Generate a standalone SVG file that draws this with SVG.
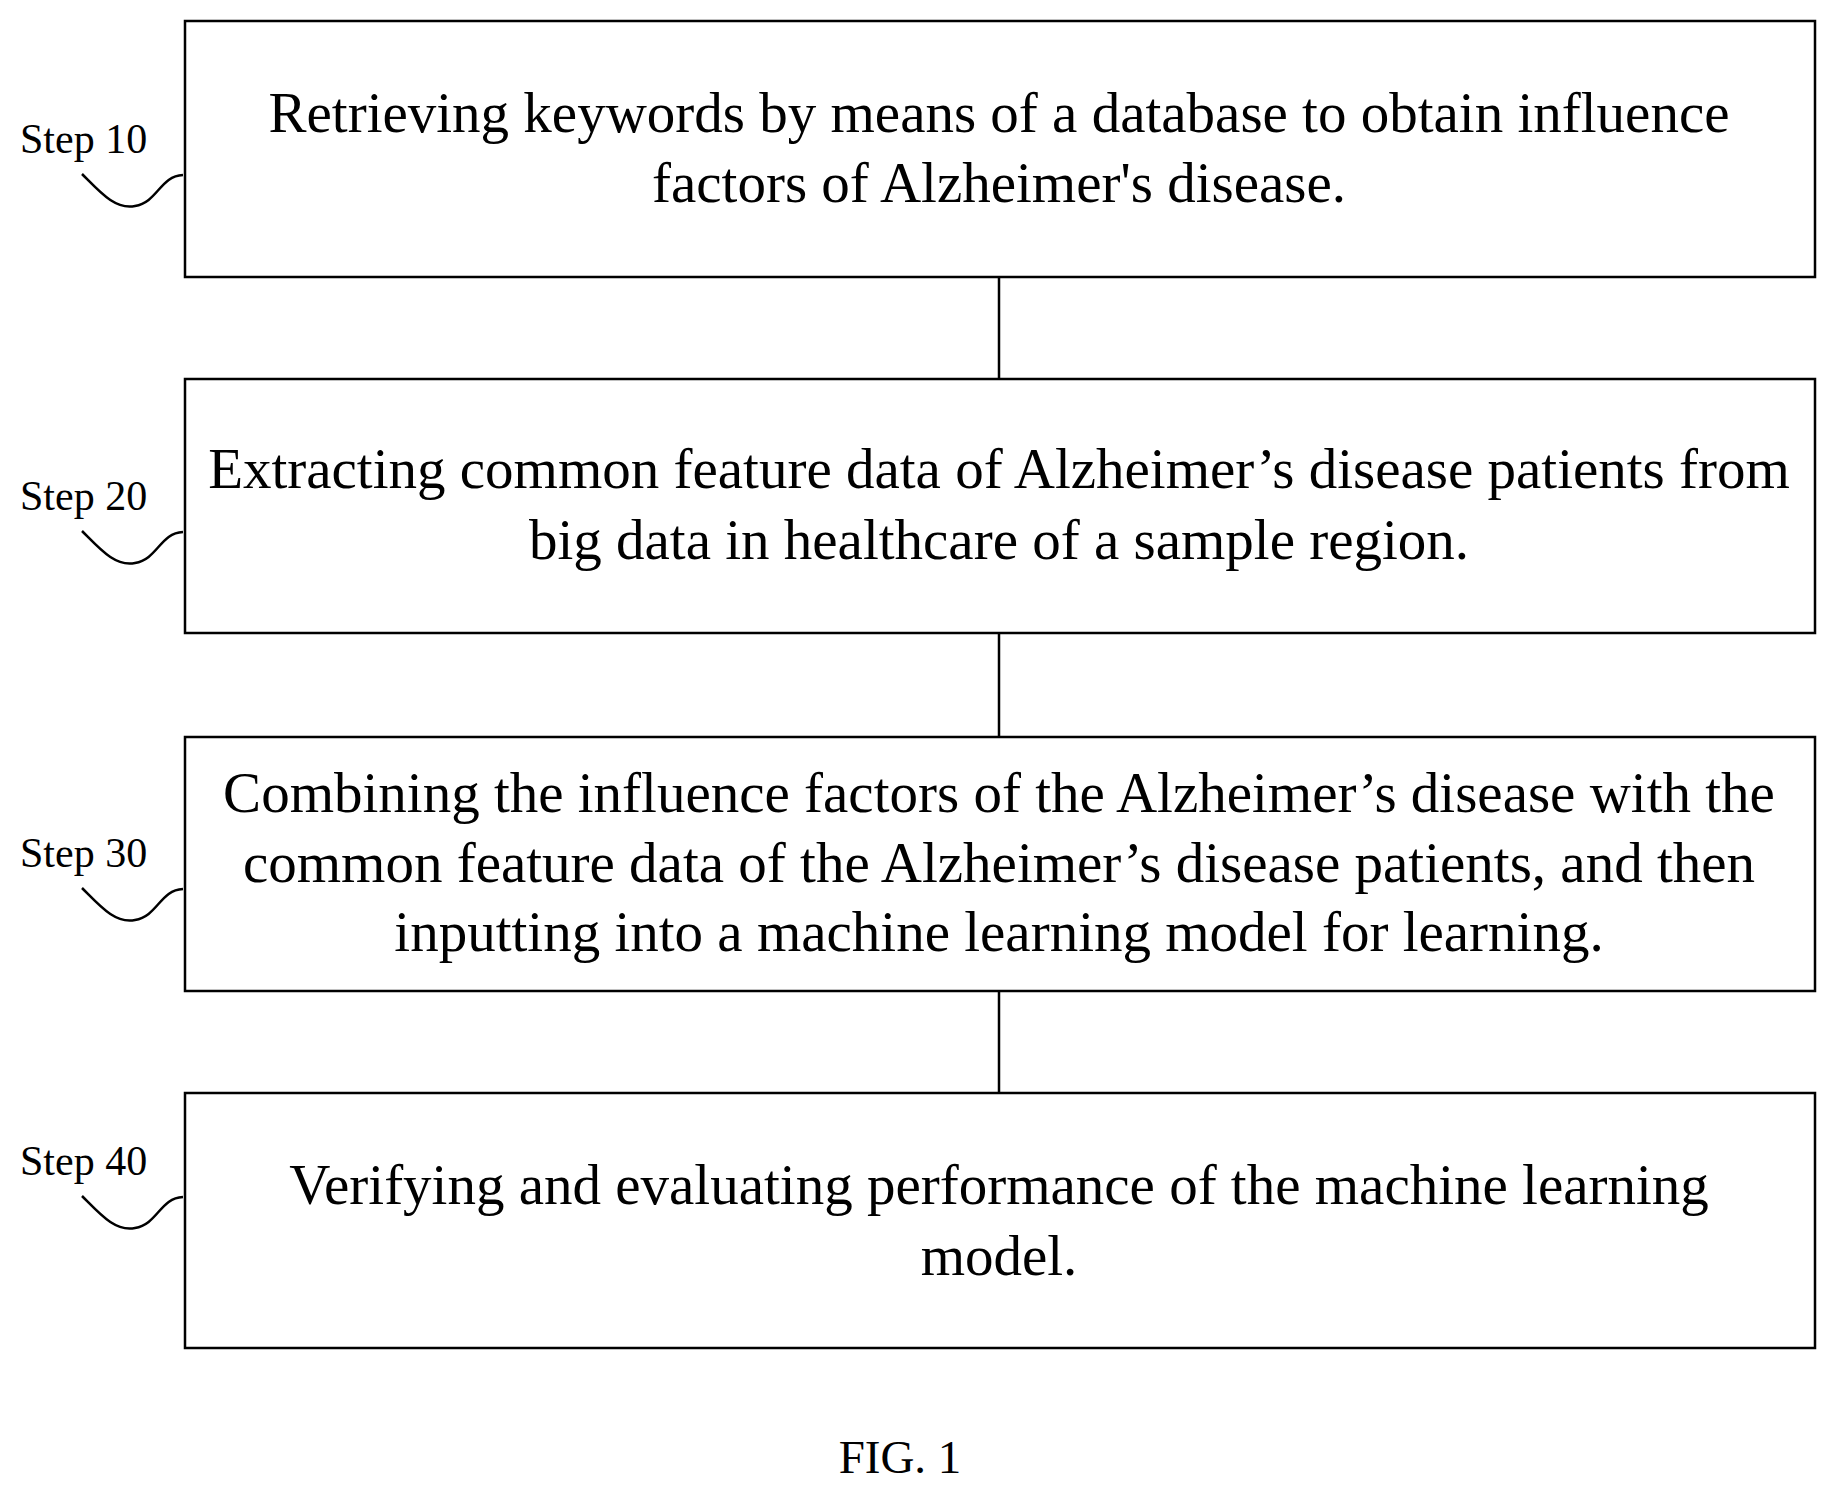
<svg xmlns="http://www.w3.org/2000/svg" width="1836" height="1491" viewBox="0 0 1836 1491">
<style>
.box{fill:#fff;stroke:#000;stroke-width:2.5}
.t{font-family:"Liberation Serif",serif;font-size:57px;text-anchor:middle;fill:#000}
.s{font-family:"Liberation Serif",serif;font-size:42px;fill:#000}
.sq{fill:none;stroke:#000;stroke-width:2.5}
</style>
<rect width="1836" height="1491" fill="#fff"/>
<g id="connectors" stroke="#000" stroke-width="2.5">
<line x1="999" y1="277" x2="999" y2="379"/>
<line x1="999" y1="633" x2="999" y2="737"/>
<line x1="999" y1="991" x2="999" y2="1093"/>
</g>
<g id="step10">
<rect class="box" x="185" y="21" width="1630" height="256"/>
<text class="t" x="999" y="132">Retrieving keywords by means of a database to obtain influence</text>
<text class="t" x="999" y="202">factors of Alzheimer's disease.</text>
<text class="s" x="20" y="153">Step 10</text>
<path class="sq" d="M82,174 C100,192 115,210 135,206 C158,202 160,176 183,175"/>
</g>
<g id="step20">
<rect class="box" x="185" y="379" width="1630" height="254"/>
<text class="t" x="999" y="488">Extracting common feature data of Alzheimer’s disease patients from</text>
<text class="t" x="999" y="559">big data in healthcare of a sample region.</text>
<text class="s" x="20" y="510">Step 20</text>
<path class="sq" d="M82,531 C100,549 115,567 135,563 C158,559 160,533 183,532"/>
</g>
<g id="step30">
<rect class="box" x="185" y="737" width="1630" height="254"/>
<text class="t" x="999" y="812">Combining the influence factors of the Alzheimer’s disease with the</text>
<text class="t" x="999" y="882">common feature data of the Alzheimer’s disease patients, and then</text>
<text class="t" x="999" y="951">inputting into a machine learning model for learning.</text>
<text class="s" x="20" y="867">Step 30</text>
<path class="sq" d="M82,888 C100,906 115,924 135,920 C158,916 160,890 183,889"/>
</g>
<g id="step40">
<rect class="box" x="185" y="1093" width="1630" height="255"/>
<text class="t" x="999" y="1204">Verifying and evaluating performance of the machine learning</text>
<text class="t" x="999" y="1275">model.</text>
<text class="s" x="20" y="1175">Step 40</text>
<path class="sq" d="M82,1196 C100,1214 115,1232 135,1228 C158,1224 160,1198 183,1197"/>
</g>
<text class="s" x="900" y="1473" text-anchor="middle" style="font-size:47px">FIG. 1</text>
</svg>
